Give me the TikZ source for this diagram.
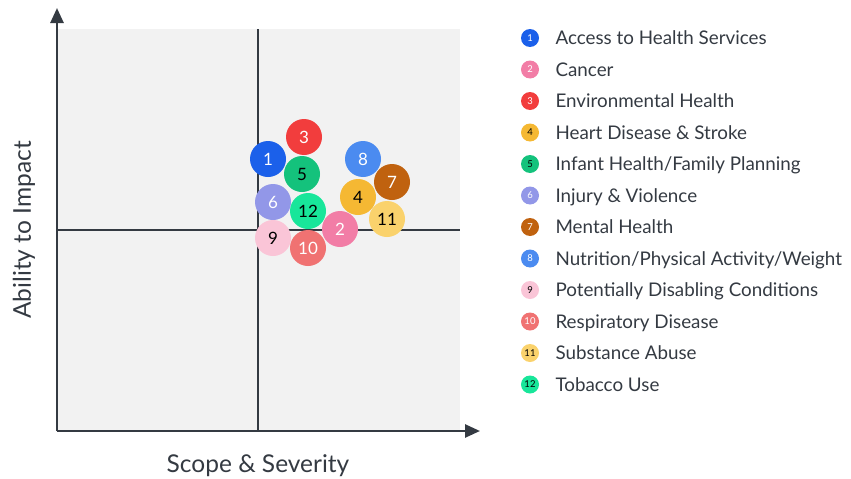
\documentclass[tikz,border=0pt]{standalone}
\usepackage{fontspec}
\setmainfont{Lato}
\usetikzlibrary{arrows.meta}

\definecolor{ink}{HTML}{343A42}
\definecolor{panel}{HTML}{F2F2F2}
\definecolor{c1}{HTML}{1B60EA}
\definecolor{c2}{HTML}{F27DA6}
\definecolor{c3}{HTML}{F23D3D}
\definecolor{c4}{HTML}{F5B833}
\definecolor{c5}{HTML}{14C27C}
\definecolor{c6}{HTML}{9297E8}
\definecolor{c7}{HTML}{C0620F}
\definecolor{c8}{HTML}{4B8BF0}
\definecolor{c9}{HTML}{FAC5D7}
\definecolor{c10}{HTML}{F07272}
\definecolor{c11}{HTML}{FAD26C}
\definecolor{c12}{HTML}{18E69A}

\begin{document}
\begin{tikzpicture}[x=1pt, y=-1pt,
    bubble/.style={circle, minimum size=36pt, inner sep=0pt, font=\fontsize{17}{17}\selectfont},
    dot/.style={circle, minimum size=18pt, inner sep=0pt, font=\fontsize{9.5}{9.5}\selectfont},
    entry/.style={anchor=west, text=ink, text height=17pt, text depth=4pt, font=\fontsize{18.8}{20}\selectfont},
    axis/.style={draw=ink, line width=2.6pt, -{Triangle[length=15pt, width=13pt]}},
    divider/.style={draw=ink, line width=1.4pt}]
    \useasboundingbox (0,0) rectangle (851,479);

    % quadrant panel
    \fill [panel] (57,29) rectangle (460,431);
    \coordinate (O) at (57,431);
    \coordinate (Ytop) at (57,8);
    \coordinate (Xend) at (480,431);
    \coordinate (Vtop) at (258,29);
    \coordinate (Vbot) at (258,431);
    \coordinate (Hl) at (57,230);
    \coordinate (Hr) at (460,230);
    \draw [divider] (Vtop) -- (Vbot);
    \draw [divider] (Hl) -- (Hr);
    \draw [axis] (O) -- (Ytop);
    \draw [axis] (O) -- (Xend);

    \node (YL) at (24,230) [rotate=90, text=ink, font=\fontsize{24.5}{25}\selectfont] {Ability to Impact};
    \node (XL) at (258,466) [text=ink, font=\fontsize{24.5}{25}\selectfont] {Scope \& Severity};

    % bubbles
    \node (B3) at (304,137) [bubble, fill=c3, text=white] {3};
    \node (B1) at (268,159) [bubble, fill=c1, text=white] {1};
    \node (B5) at (302,174) [bubble, fill=c5, text=black] {5};
    \node (B8) at (363,159) [bubble, fill=c8, text=white] {8};
    \node (B11) at (387,219) [bubble, fill=c11, text=black] {11};
    \node (B7) at (392,182) [bubble, fill=c7, text=white] {7};
    \node (B4) at (358,197) [bubble, fill=c4, text=black] {4};
    \node (B6) at (273,202) [bubble, fill=c6, text=white] {6};
    \node (B12) at (308,211) [bubble, fill=c12, text=black] {12};
    \node (B2) at (340,229) [bubble, fill=c2, text=white] {2};
    \node (B9) at (273,238) [bubble, fill=c9, text=black] {9};
    \node (B10) at (308,248) [bubble, fill=c10, text=white] {10};

    % legend
    \node (L1) at (530,38) [dot, fill=c1, text=white] {1};
    \node (L2) at (530,69.5) [dot, fill=c2, text=white] {2};
    \node (L3) at (530,101) [dot, fill=c3, text=white] {3};
    \node (L4) at (530,132.5) [dot, fill=c4, text=black] {4};
    \node (L5) at (530,164) [dot, fill=c5, text=black] {5};
    \node (L6) at (530,195.5) [dot, fill=c6, text=white] {6};
    \node (L7) at (530,227) [dot, fill=c7, text=white] {7};
    \node (L8) at (530,258.5) [dot, fill=c8, text=white] {8};
    \node (L9) at (530,290) [dot, fill=c9, text=black] {9};
    \node (L10) at (530,321.5) [dot, fill=c10, text=white] {10};
    \node (L11) at (530,353) [dot, fill=c11, text=black] {11};
    \node (L12) at (530,384.5) [dot, fill=c12, text=black] {12};

    \node (T1) at (552,38) [entry] {Access to Health Services};
    \node (T2) at (552,69.5) [entry] {Cancer};
    \node (T3) at (552,101) [entry] {Environmental Health};
    \node (T4) at (552,132.5) [entry] {Heart Disease \& Stroke};
    \node (T5) at (552,164) [entry] {Infant Health/Family Planning};
    \node (T6) at (552,195.5) [entry] {Injury \& Violence};
    \node (T7) at (552,227) [entry] {Mental Health};
    \node (T8) at (552,258.5) [entry] {Nutrition/Physical Activity/Weight};
    \node (T9) at (552,290) [entry] {Potentially Disabling Conditions};
    \node (T10) at (552,321.5) [entry] {Respiratory Disease};
    \node (T11) at (552,353) [entry] {Substance Abuse};
    \node (T12) at (552,384.5) [entry] {Tobacco Use};
\end{tikzpicture}
\end{document}
